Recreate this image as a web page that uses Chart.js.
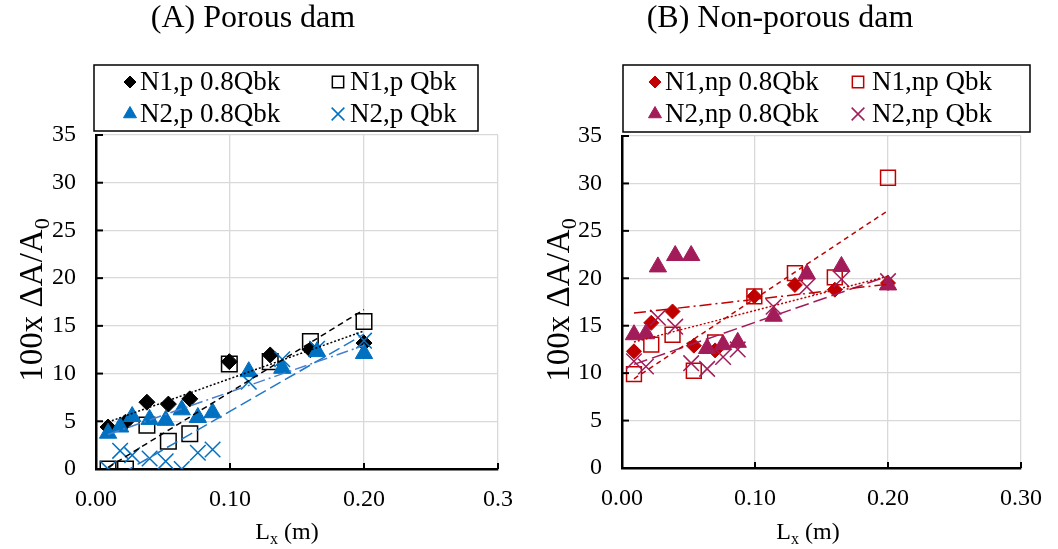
<!DOCTYPE html>
<html>
<head>
<meta charset="utf-8">
<script src="https://cdn.jsdelivr.net/npm/chart.js@4.4.1/dist/chart.umd.min.js"></script>
<style>
  body { margin: 0; background: #fff; }
  #wrap { position: relative; width: 1058px; height: 549px; }
  canvas { position: absolute; top: 0; }
</style>
</head>
<body>
<div id="wrap">
  <canvas id="chartA" width="529" height="549" style="left:0"></canvas>
  <canvas id="chartB" width="529" height="549" style="left:529px"></canvas>
</div>
<script>
// x positions of the gauges (m)
var xN1 = [0.009, 0.022, 0.038, 0.054, 0.070, 0.0995, 0.130, 0.160, 0.200];
var xN2 = [0.009, 0.018, 0.027, 0.040, 0.052, 0.064, 0.076, 0.087, 0.114, 0.139, 0.165, 0.200];

// (A) porous dam, 100x dA/A0
var pN1_08 = [4.4, 4.9, 7.0, 6.8, 7.35, 11.25, 11.95, 12.5, 13.2];
var pN1_Q  = [0, 0, 4.6, 2.9, 3.7, 11.0, 11.25, 13.35, 15.45];
var pN2_08 = [3.75, 4.4, 5.5, 5.2, 5.1, 6.2, 5.4, 5.9, 10.2, 10.55, 12.3, 12.1];
var pN2_Q  = [0, 1.9, 1.45, 1.1, 0.8, 0, 1.7, 2.05, 9.15, 11.5, 12.6, 13.45];

// (B) non-porous dam
var npN1_08 = [12.3, 15.3, 16.5, 12.9, 12.4, 18.1, 19.3, 18.8, 19.5];
var npN1_Q  = [9.9, 13.0, 14.05, 10.25, 13.25, 18.1, 20.55, 20.1, 30.6];
var npN2_08 = [14.05, 14.15, 21.2, 22.4, 22.4, 12.6, 13.0, 13.25, 16.0, 20.45, 21.25, 19.3];
var npN2_Q  = [11.25, 10.7, 15.85, 14.9, 11.05, 10.45, 11.7, 12.5, 17.0, 19.1, 19.9, 19.7];

var xTicksA = ['0.00', '0.10', '0.20', '0.3'];
var xTicksB = ['0.00', '0.10', '0.20', '0.30'];
var yTicks = ['0', '5', '10', '15', '20', '25', '30', '35'];

var FONT = '"Liberation Serif", "Times New Roman", serif';

function pts(xs, ys) {
  return xs.map(function(x, i) { return {x: x, y: ys[i]}; });
}

// least squares line over the range of the series
function trend(xs, ys) {
  var n = xs.length, mx = 0, my = 0, sxy = 0, sxx = 0;
  for (var i = 0; i < n; i++) { mx += xs[i]; my += ys[i]; }
  mx /= n; my /= n;
  for (var j = 0; j < n; j++) {
    sxy += (xs[j] - mx) * (ys[j] - my);
    sxx += (xs[j] - mx) * (xs[j] - mx);
  }
  var b = sxy / sxx, a = my - b * mx;
  var x0 = Math.min.apply(null, xs), x1 = Math.max.apply(null, xs);
  return [{x: x0, y: a + b * x0}, {x: x1, y: a + b * x1}];
}

function drawParts(ctx, parts, size) {
  // parts: [text, isSub]; drawn centred on 0 with alphabetic baseline at 0
  var total = 0, widths = [];
  parts.forEach(function(p) {
    ctx.font = (p[1] ? Math.round(size * 0.66) : size) + 'px ' + FONT;
    var w = ctx.measureText(p[0]).width;
    widths.push(w); total += w;
  });
  var x = -total / 2;
  ctx.textAlign = 'left';
  ctx.textBaseline = 'alphabetic';
  parts.forEach(function(p, i) {
    ctx.font = (p[1] ? Math.round(size * 0.66) : size) + 'px ' + FONT;
    ctx.fillText(p[0], x, p[1] ? size * 0.22 : 0);
    x += widths[i];
  });
}

function marker(ctx, d, x, y, r) {
  ctx.fillStyle = d.pointBackgroundColor;
  ctx.strokeStyle = d.pointBorderColor;
  ctx.lineWidth = d.pointBorderWidth;
  Chart.helpers.drawPoint(ctx, {pointStyle: d.pointStyle, radius: r, borderWidth: d.pointBorderWidth, rotation: 0}, x, y);
}

var decor = {
  id: 'decor',
  afterDraw: function(chart, args, o) {
    var ctx = chart.ctx, ca = chart.chartArea;
    var sx = chart.scales.x, sy = chart.scales.y;
    ctx.save();

    // inward tick marks
    ctx.strokeStyle = '#000';
    ctx.lineWidth = 2;
    sy.ticks.forEach(function(t) {
      if (t.value <= 0) return;
      var py = sy.getPixelForValue(t.value);
      ctx.beginPath(); ctx.moveTo(ca.left, py); ctx.lineTo(ca.left + 7, py); ctx.stroke();
    });
    sx.ticks.forEach(function(t) {
      if (t.value <= 0) return;
      var px = sx.getPixelForValue(t.value);
      ctx.beginPath(); ctx.moveTo(px, ca.bottom); ctx.lineTo(px, ca.bottom - 6); ctx.stroke();
    });

    // panel title
    ctx.fillStyle = '#000';
    ctx.font = '32px ' + FONT;
    ctx.textAlign = 'center';
    ctx.textBaseline = 'middle';
    ctx.fillText(o.title, o.titleX, 19);

    // legend
    ctx.lineWidth = 1.5;
    ctx.strokeStyle = '#000';
    ctx.strokeRect(o.box[0], o.box[1], o.box[2], o.box[3]);
    var items = chart.data.datasets.filter(function(d) { return !d.isTrend; });
    items.forEach(function(d, i) {
      var col = i % 2, row = Math.floor(i / 2);
      marker(ctx, d, o.markX[col], o.rowY[row], d.legendRadius);
      ctx.fillStyle = '#000';
      ctx.font = '27px ' + FONT;
      ctx.textAlign = 'left';
      ctx.textBaseline = 'middle';
      ctx.fillText(d.label, o.textX[col], o.rowY[row] + 1);
    });

    // axis titles
    ctx.fillStyle = '#000';
    ctx.save();
    ctx.translate(o.xTitleX, 539);
    drawParts(ctx, [['L', false], ['x', true], [' (m)', false]], 24);
    ctx.restore();
    ctx.save();
    ctx.translate(o.yTitleX, 300);
    ctx.rotate(-Math.PI / 2);
    drawParts(ctx, [['100x \u0394A/A', false], ['0', true]], 33);
    ctx.restore();

    ctx.restore();
  }
};

function makeChart(id, series, xLabels, o) {
  var datasets = [];
  series.forEach(function(s, i) {
    datasets.push({
      label: s.label,
      data: pts(s.x, s.y),
      pointStyle: s.style,
      pointRadius: s.r,
      legendRadius: s.lr,
      pointBackgroundColor: s.fill ? s.color : 'rgba(0,0,0,0)',
      pointBorderColor: s.color,
      pointBorderWidth: s.bw,
      showLine: false,
      order: 10 - i
    });
  });
  series.forEach(function(s) {
    datasets.push({
      label: s.label + ' trend',
      isTrend: true,
      data: trend(s.x, s.y),
      showLine: true,
      borderColor: s.tColor,
      borderWidth: 1.5,
      borderDash: s.dash,
      pointRadius: 0,
      fill: false,
      order: 0
    });
  });

  return new Chart(document.getElementById(id), {
    type: 'scatter',
    data: {datasets: datasets},
    options: {
      responsive: false,
      animation: false,
      events: [],
      layout: {padding: {top: o.top, right: o.right, left: 0, bottom: 0}},
      plugins: {
        legend: {display: false},
        tooltip: {enabled: false},
        decor: o
      },
      scales: {
        x: {
          type: 'linear', min: 0, max: 0.3,
          afterFit: function(s) { s.height = 549 - o.bottom; },
          afterBuildTicks: function(s) { s.ticks = [0, 0.1, 0.2, 0.3].map(function(v) { return {value: v}; }); },
          grid: {color: '#d9d9d9', lineWidth: 1.3, drawTicks: false},
          border: {color: '#000', width: 2.5},
          ticks: {
            padding: 16, color: '#000', font: {family: FONT, size: 24},
            maxRotation: 0, autoSkip: false,
            callback: function(v, i) { return xLabels[i]; }
          }
        },
        y: {
          type: 'linear', min: 0, max: 35,
          afterFit: function(s) { s.width = o.left; },
          afterBuildTicks: function(s) { s.ticks = yTicks.map(function(t) { return {value: Number(t)}; }); },
          grid: {color: '#d9d9d9', lineWidth: 1.3, drawTicks: false},
          border: {color: '#000', width: 2.5},
          ticks: {
            padding: 20, color: '#000', font: {family: FONT, size: 24},
            callback: function(v, i) { return yTicks[i]; }
          }
        }
      }
    },
    plugins: [decor]
  });
}

var BLUE = '#0070c0', RED = '#c00000', PLUM = '#a21c5a';

makeChart('chartA', [
  {label: 'N1,p 0.8Qbk', x: xN1, y: pN1_08, style: 'rectRot', r: 8, lr: 6, fill: true, color: '#000', bw: 1, tColor: '#000', dash: [2, 2]},
  {label: 'N1,p Qbk', x: xN1, y: pN1_Q, style: 'rect', r: 11, lr: 8, fill: false, color: '#000', bw: 1.5, tColor: '#000', dash: [6, 4]},
  {label: 'N2,p 0.8Qbk', x: xN2, y: pN2_08, style: 'triangle', r: 10, lr: 7.5, fill: true, color: BLUE, bw: 1, tColor: '#4a7fd0', dash: [12, 4, 2, 4]},
  {label: 'N2,p Qbk', x: xN2, y: pN2_Q, style: 'crossRot', r: 11, lr: 9, fill: false, color: BLUE, bw: 1.5, tColor: '#1f78c8', dash: [12, 5]}
], xTicksA, {
  top: 135, bottom: 469, left: 96, right: 19,
  title: '(A) Porous dam', titleX: 253,
  box: [94, 65, 384, 66], markX: [130, 338], textX: [140, 350], rowY: [82, 114],
  xTitleX: 287, yTitleX: 42
});

makeChart('chartB', [
  {label: 'N1,np 0.8Qbk', x: xN1, y: npN1_08, style: 'rectRot', r: 7.5, lr: 6, fill: true, color: RED, bw: 1, tColor: RED, dash: [2, 2]},
  {label: 'N1,np Qbk', x: xN1, y: npN1_Q, style: 'rect', r: 10.5, lr: 8, fill: false, color: RED, bw: 1.5, tColor: RED, dash: [5, 4]},
  {label: 'N2,np 0.8Qbk', x: xN2, y: npN2_08, style: 'triangle', r: 10, lr: 7.5, fill: true, color: PLUM, bw: 1, tColor: RED, dash: [12, 4, 2, 4]},
  {label: 'N2,np Qbk', x: xN2, y: npN2_Q, style: 'crossRot', r: 11, lr: 9, fill: false, color: PLUM, bw: 1.5, tColor: PLUM, dash: [14, 5]}
], xTicksB, {
  top: 136, bottom: 468, left: 93, right: 26,
  title: '(B) Non-porous dam', titleX: 251,
  box: [94, 65, 407, 67], markX: [126, 329], textX: [136, 343], rowY: [82, 114],
  xTitleX: 279, yTitleX: 40
});
</script>
</body>
</html>
